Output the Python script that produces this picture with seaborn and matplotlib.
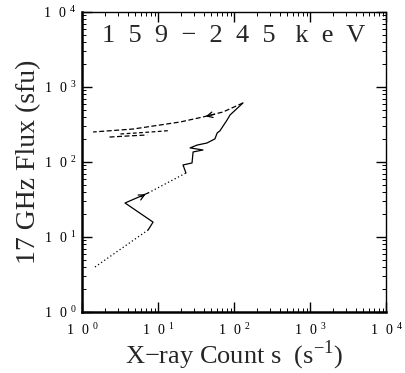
import numpy as np
import pandas as pd
import matplotlib
matplotlib.use("Agg")
import matplotlib.pyplot as plt
import seaborn as sns
from matplotlib.ticker import LogLocator, FixedLocator, NullFormatter

sns.set_theme(style="ticks")
plt.rcParams['font.family'] = ['Liberation Serif', 'DejaVu Serif']
plt.rcParams['mathtext.fontset'] = 'custom'
plt.rcParams['mathtext.rm'] = 'Liberation Serif'

# Trajectory segments (x-ray counts, 17 GHz flux), with line style
seg1_x = [1.48, 7.4]
seg1_y = [3.98, 12.4]
seg2_x = [7.4, 8.6, 3.68, 7.4]
seg2_y = [12.4, 15.8, 28.4, 38.6]
seg3_x = [7.4, 23.3]
seg3_y = [38.6, 71.3]
seg4_x = [23.3, 21.3, 28.0, 28.9, 39.0, 26.4, 32.6, 44.0, 56.0, 60.0, 65.0, 81.0, 88.5, 131.0]
seg4_y = [71.3, 91.2, 97.0, 136.0, 144.5, 154.0, 168.0, 179.0, 203.0, 244.0, 259.0, 363.0, 423.0, 612.0]
seg5_x = [131.0, 71.6, 39.0, 19.5, 10.6, 4.7, 1.4]
seg5_y = [612.0, 464.0, 398.0, 341.0, 311.0, 275.0, 251.0]
seg6_x = [2.3, 4.0, 7.2]
seg6_y = [215.0, 222.0, 229.0]
seg7_x = [3.2, 6.0, 10.5, 14.0]
seg7_y = [236.0, 246.0, 256.0, 262.0]

segments = [
    (seg1_x, seg1_y, (0, (1, 2))),
    (seg2_x, seg2_y, '-'),
    (seg3_x, seg3_y, (0, (1, 2))),
    (seg4_x, seg4_y, '-'),
    (seg5_x, seg5_y, (0, (4, 2))),
    (seg6_x, seg6_y, (0, (4, 2))),
    (seg7_x, seg7_y, (0, (3, 2))),
]

title_text = "1  5  9  \u2212  2  4  5   k  e  V"
xlabel = "X\u2212ray Count s  (s$^{-1}$)"
ylabel = "17 GHz Flux (sfu)"
decade_ticks = [1, 10, 100, 1000, 10000]
decade_labels = [r"$\mathregular{1\ \ 0^{\ %d}}$" % i for i in range(5)]

fig = plt.figure(figsize=(4.06, 3.73), dpi=100)
ax = fig.add_axes([0.202, 0.1635, 0.749, 0.8045])

for sx, sy, ls in segments:
    sns.lineplot(x=sx, y=sy, sort=False, estimator=None, color='black',
                 lw=0.9, linestyle=ls, ax=ax)

# arrowheads
for (x0, y0, x1, y1) in [(5.5, 33.0, 7.4, 38.6), (60.0, 440.0, 39.0, 398.0)]:
    ax.annotate('', xy=(x1, y1), xytext=(x0, y0),
                arrowprops=dict(arrowstyle='->', color='black', lw=0.9,
                                mutation_scale=10))

ax.set_xscale('log')
ax.set_yscale('log')
ax.set_xlim(1, 1e4)
ax.set_ylim(1, 1e4)
ax.xaxis.set_major_locator(FixedLocator(decade_ticks))
ax.yaxis.set_major_locator(FixedLocator(decade_ticks))
ax.set_xticklabels(decade_labels)
ax.set_yticklabels(decade_labels)
ax.xaxis.set_minor_locator(LogLocator(base=10, subs=np.arange(2, 10), numticks=20))
ax.yaxis.set_minor_locator(LogLocator(base=10, subs=np.arange(2, 10), numticks=20))
ax.xaxis.set_minor_formatter(NullFormatter())
ax.yaxis.set_minor_formatter(NullFormatter())
ax.tick_params(which='both', direction='in', top=True, right=True, colors='black',
               labelsize=10)
ax.tick_params(which='major', length=7, width=1)
ax.tick_params(which='minor', length=3, width=0.7)
ax.tick_params(axis='x', which='major', pad=7)
ax.tick_params(axis='y', which='major', pad=4)
for side in ['left', 'bottom']:
    ax.spines[side].set_linewidth(1.8)
for side in ['top', 'right']:
    ax.spines[side].set_linewidth(1.0)
for s in ax.spines.values():
    s.set_color('black')

ax.text(0.065, 0.955, title_text, transform=ax.transAxes, fontsize=19,
        va='top', ha='left')
ax.set_xlabel(xlabel, fontsize=19, labelpad=1)
ax.set_ylabel(ylabel, fontsize=20, labelpad=2)

fig.savefig('out.png', dpi=100, facecolor='white')
